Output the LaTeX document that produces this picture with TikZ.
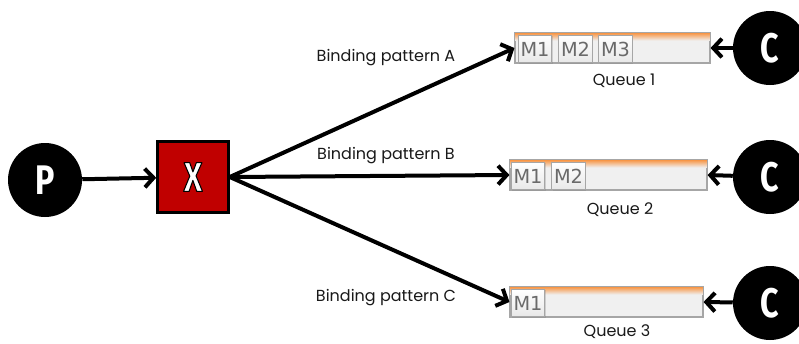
\documentclass[tikz,border=0pt]{standalone}
\usepackage{fontspec}
\usetikzlibrary{arrows.meta,shadows}
\setmainfont{Poppins}
\newfontfamily\mfont{DejaVu Sans}
\newfontfamily\condfont[FakeStretch=0.78]{Fira Sans}
\definecolor{xred}{HTML}{C00000}
\definecolor{qorange}{HTML}{F79646}
\definecolor{mgray}{HTML}{6A6A6A}
\definecolor{qborder}{HTML}{A6A6A6}
\definecolor{qfill}{HTML}{F0F0F0}
\newcommand{\outlinedtext}[1]{\special{pdf:literal direct 0 0 0 RG 0.8 w 1 j 2 Tr}#1\special{pdf:literal direct 0 Tr}}
\begin{document}
\begin{tikzpicture}[x=0.75pt,y=-0.75pt,
 conn/.style={line width=3pt, -{Straight Barb[length=6.5pt,width=14pt]}},
 agent/.style={circle, fill=black, minimum size=55.5pt, inner sep=0pt, text=white,
   font=\condfont\bfseries\fontsize{31}{31}\selectfont},
 exch/.style={fill=xred, draw=black, line width=2.2pt, minimum size=53pt, inner sep=0pt,
   text=white, font=\condfont\bfseries\fontsize{31}{31}\selectfont,
   drop shadow={shadow xshift=1.5pt, shadow yshift=-1.5pt, opacity=0.3}},
 qbar/.style={draw=qborder, line width=0.8pt, fill=qfill, minimum height=22.5pt, inner sep=0pt,
   drop shadow={shadow xshift=1pt, shadow yshift=-1pt, opacity=0.25}},
 msg/.style={draw=qborder, line width=0.6pt, top color=white, bottom color=gray!18,
   minimum width=25pt, minimum height=20.5pt, inner sep=0pt, text=mgray,
   font=\mfont\fontsize{14.5}{14.5}\selectfont,
   drop shadow={shadow xshift=0.8pt, shadow yshift=-0.8pt, opacity=0.3}},
 lbl/.style={font=\fontsize{12}{14}\selectfont, text=black!90}
]
\useasboundingbox (0,0) rectangle (799,343);

% producer and exchange
\node[agent] (P) at (45,180) {P};
\node[exch] (X) at (193,177) {\outlinedtext{X}};

% queues
\node[qbar, minimum width=146.25pt] (Q1) at (612.5,48) {};
\node[qbar, minimum width=147.75pt] (Q2) at (608.5,175) {};
\node[qbar, minimum width=144.75pt] (Q3) at (606.5,302) {};
\foreach \q in {Q1,Q2,Q3}{
  \shade[top color=qorange, bottom color=qfill] ([xshift=0.4pt,yshift=-0.4pt]\q.north west) rectangle ([xshift=-0.4pt,yshift=-6pt]\q.north east);
  \draw[qborder, line width=0.8pt] (\q.north west) rectangle (\q.south east);
}

% messages
\node[msg] (Q1M1) at (535,49) {M1};
\node[msg] (Q1M2) at (575.5,49) {M2};
\node[msg] (Q1M3) at (615.5,49) {M3};
\node[msg] (Q2M1) at (528,176) {M1};
\node[msg] (Q2M2) at (568.5,176) {M2};
\node[msg] (Q3M1) at (528,303) {M1};

% labels
\node[lbl] (LA) at (386,58) {Binding pattern A};
\node[lbl] (LB) at (386,156) {Binding pattern B};
\node[lbl] (LC) at (386,298) {Binding pattern C};
\node[lbl] (N1) at (624,81) {Queue 1};
\node[lbl] (N2) at (620,210) {Queue 2};
\node[lbl] (N3) at (617,332) {Queue 3};

% consumers
\node[agent] (C1) at (770,48) {C};
\node[agent] (C2) at (770,177) {C};
\node[agent] (C3) at (770,303) {C};

% connectors
\draw[conn] (P) -- (X);
\draw[conn] (X.east) -- (Q1.west);
\draw[conn] (X.east) -- (Q2.west);
\draw[conn] (X.east) -- (Q3.west);
\draw[conn] (C1) -- (Q1.east);
\draw[conn] (C2) -- (Q2.east);
\draw[conn] (C3) -- (Q3.east);
\end{tikzpicture}
\end{document}
